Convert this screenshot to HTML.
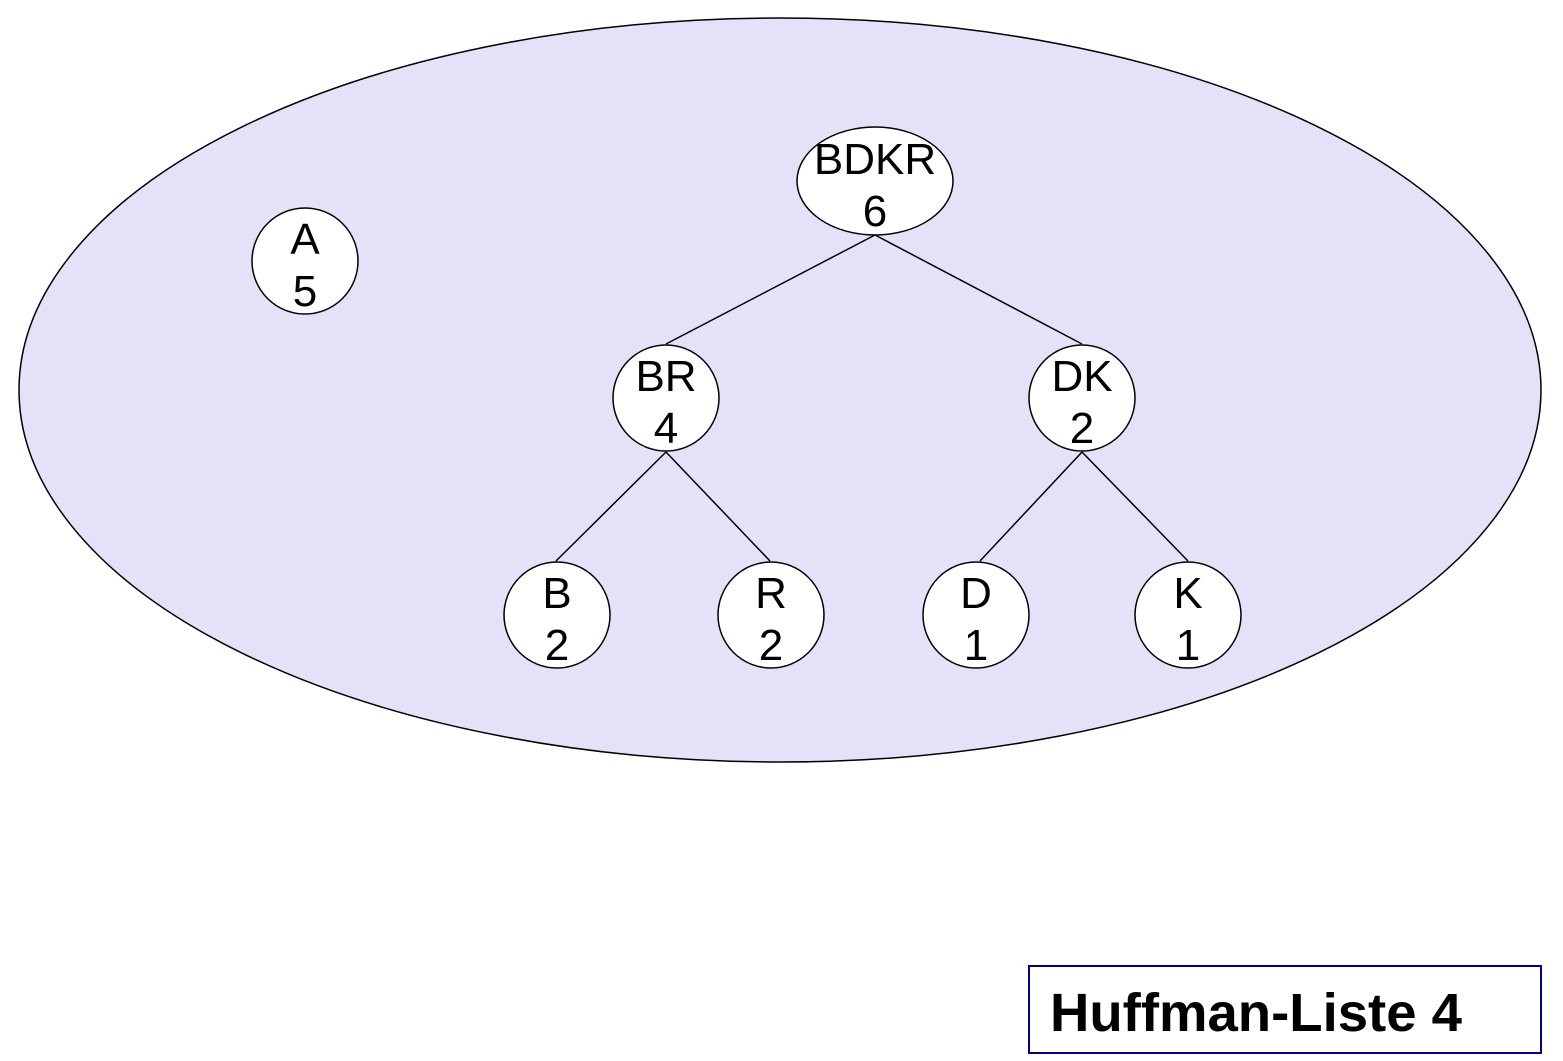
<!DOCTYPE html>
<html><head><meta charset="utf-8"><style>
html,body{margin:0;padding:0;background:#fff;}
svg{display:block;}
text{font-family:"Liberation Sans",Arial,sans-serif;}
</style></head><body>
<svg width="1563" height="1061" viewBox="0 0 1563 1061" xmlns="http://www.w3.org/2000/svg">
<ellipse cx="780" cy="390" rx="761" ry="372" fill="#e3e2f8" stroke="#000" stroke-width="1.5"/>
<g stroke="#000" stroke-width="1.5">
<line x1="875" y1="235" x2="666" y2="344"/>
<line x1="875" y1="235" x2="1082" y2="344"/>
<line x1="666" y1="452" x2="556" y2="561"/>
<line x1="666" y1="452" x2="770" y2="561"/>
<line x1="1082" y1="452" x2="980" y2="561"/>
<line x1="1082" y1="452" x2="1188" y2="561"/>
</g>
<g fill="#fff" stroke="#000" stroke-width="1.5">
<circle cx="305" cy="261" r="53"/>
<ellipse cx="875" cy="181" rx="78" ry="54"/>
<circle cx="666" cy="398" r="53"/>
<circle cx="1082" cy="398" r="53"/>
<circle cx="557" cy="615" r="53"/>
<circle cx="771" cy="615" r="53"/>
<circle cx="976" cy="615" r="53"/>
<circle cx="1188" cy="615" r="53"/>
</g>
<g font-size="44" text-anchor="middle" fill="#000">
<text x="305" y="254">A</text><text x="305" y="306">5</text>
<text x="875" y="174">BDKR</text><text x="875" y="226">6</text>
<text x="666" y="391">BR</text><text x="666" y="443">4</text>
<text x="1082" y="391">DK</text><text x="1082" y="443">2</text>
<text x="557" y="608">B</text><text x="557" y="660">2</text>
<text x="771" y="608">R</text><text x="771" y="660">2</text>
<text x="976" y="608">D</text><text x="976" y="660">1</text>
<text x="1188" y="608">K</text><text x="1188" y="660">1</text>
</g>
<rect x="1029" y="966" width="512" height="87" fill="#fff" stroke="#000080" stroke-width="2"/>
<text x="1050" y="1031" font-size="54" font-weight="bold" fill="#000" textLength="412" lengthAdjust="spacingAndGlyphs">Huffman-Liste 4</text>
</svg>
</body></html>
